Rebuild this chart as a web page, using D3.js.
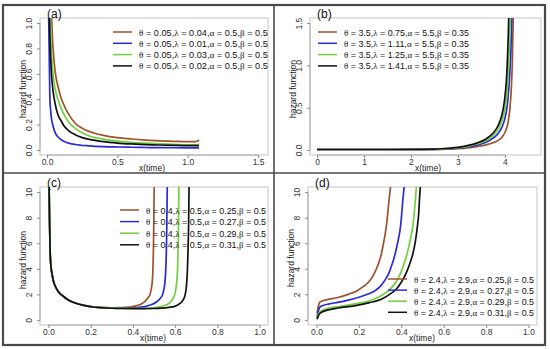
<!DOCTYPE html>
<html>
<head>
<meta charset="utf-8">
<script src="https://cdn.jsdelivr.net/npm/d3@7"></script>
<style>
  html, body { margin: 0; padding: 0; background: #fff; }
  svg { display: block; }
</style>
</head>
<body>
<script>
// series colours, same order in every panel
const colors = ['#a0522d', '#2a2ad8', '#72d03c', '#111111'];

// panel (a)
const aBrown = [[0.03,1.1],[0.04,0.85],[0.05,0.7],[0.06,0.6],[0.08,0.49],[0.1,0.41],[0.13,0.33],[0.16,0.27],[0.2,0.21],[0.25,0.17],[0.3,0.145],[0.4,0.115],[0.5,0.097],[0.6,0.086],[0.7,0.078],[0.8,0.072],[0.9,0.068],[1.0,0.065],[1.05,0.065],[1.07,0.07],[1.08,0.08]];
const aBlue = [[0.011,1.1],[0.015,0.8],[0.02,0.42],[0.025,0.32],[0.03,0.26],[0.04,0.2],[0.05,0.16],[0.06,0.13],[0.08,0.1],[0.1,0.08],[0.13,0.063],[0.16,0.052],[0.2,0.043],[0.3,0.032],[0.4,0.026],[0.5,0.023],[0.6,0.021],[0.7,0.019],[0.8,0.018],[0.9,0.017],[1.0,0.016],[1.08,0.016]];
const aGreen = [[0.022,1.1],[0.03,0.8],[0.04,0.63],[0.05,0.53],[0.06,0.47],[0.08,0.39],[0.1,0.33],[0.13,0.26],[0.16,0.21],[0.2,0.17],[0.25,0.135],[0.3,0.11],[0.4,0.085],[0.5,0.07],[0.6,0.06],[0.7,0.053],[0.8,0.048],[0.9,0.044],[1.0,0.041],[1.08,0.042]];
const aBlack = [[0.016,1.1],[0.02,0.9],[0.03,0.62],[0.04,0.49],[0.05,0.41],[0.06,0.35],[0.08,0.27],[0.1,0.23],[0.12,0.19],[0.15,0.155],[0.2,0.12],[0.25,0.097],[0.3,0.083],[0.4,0.065],[0.5,0.054],[0.6,0.047],[0.7,0.042],[0.8,0.039],[0.9,0.036],[1.0,0.034],[1.08,0.034]];
const aLegend = [['0.05','0.04','0.5','0.5'],['0.05','0.01','0.5','0.5'],['0.05','0.03','0.5','0.5'],['0.05','0.02','0.5','0.5']];
const aXTicks = [0, 0.5, 1, 1.5];
const aYTicks = [0, 0.2, 0.4, 0.6, 0.8, 1.0];

// panel (b)
const bBrown = [[0,0.005],[1,0.005],[2,0.005],[2.5,0.005],[2.8,0.01],[3.0,0.015],[3.2,0.024],[3.4,0.04],[3.6,0.06],[3.75,0.085],[3.85,0.11],[3.95,0.16],[4.02,0.23],[4.07,0.33],[4.11,0.5],[4.14,0.75],[4.16,1.05],[4.18,1.6]];
const bBlue = [[0,0.005],[1,0.005],[2,0.005],[2.5,0.007],[2.8,0.014],[3.0,0.02],[3.2,0.033],[3.4,0.055],[3.6,0.09],[3.75,0.14],[3.85,0.19],[3.93,0.26],[4.0,0.37],[4.05,0.52],[4.08,0.7],[4.11,0.95],[4.13,1.2],[4.15,1.6]];
const bGreen = [[0,0.005],[1,0.005],[2,0.006],[2.5,0.008],[2.8,0.017],[3.0,0.025],[3.2,0.04],[3.4,0.07],[3.6,0.11],[3.75,0.17],[3.85,0.24],[3.93,0.33],[3.99,0.45],[4.03,0.6],[4.06,0.8],[4.08,1.0],[4.1,1.3],[4.12,1.6]];
const bBlack = [[0,0.005],[1,0.005],[2,0.006],[2.5,0.01],[2.8,0.02],[3.0,0.03],[3.2,0.05],[3.4,0.08],[3.6,0.13],[3.75,0.2],[3.85,0.28],[3.92,0.38],[3.97,0.5],[4.0,0.62],[4.03,0.8],[4.05,1.0],[4.07,1.3],[4.085,1.6]];
const bLegend = [['3.5','0.75','5.5','0.35'],['3.5','1.11','5.5','0.35'],['3.5','1.25','5.5','0.35'],['3.5','1.41','5.5','0.35']];
const bXTicks = [0, 1, 2, 3, 4];
const bYTicks = [0, 0.5, 1.0, 1.5];

// panel (c)
const cBrown = [[0.003,10.5],[0.005,8],[0.008,5.3],[0.012,4.2],[0.018,3.5],[0.024,3.0],[0.035,2.55],[0.047,2.2],[0.07,1.85],[0.094,1.56],[0.13,1.3],[0.173,1.12],[0.21,1.03],[0.25,0.98],[0.3,0.95],[0.35,0.96],[0.38,1.0],[0.41,1.08],[0.44,1.25],[0.456,1.43],[0.47,1.7],[0.48,1.95],[0.49,2.7],[0.494,3.6],[0.497,5.3],[0.499,7.5],[0.501,10.5]];
const cBlue = [[0.003,10.5],[0.005,8],[0.008,5.3],[0.012,4.2],[0.018,3.5],[0.024,3.0],[0.035,2.55],[0.047,2.2],[0.07,1.85],[0.094,1.56],[0.13,1.3],[0.173,1.12],[0.21,1.02],[0.25,0.96],[0.3,0.93],[0.36,0.92],[0.4,0.95],[0.43,0.99],[0.456,1.04],[0.485,1.18],[0.51,1.38],[0.53,1.7],[0.54,1.95],[0.548,2.5],[0.552,3.0],[0.557,4.5],[0.56,6.6],[0.563,10.5]];
const cGreen = [[0.003,10.5],[0.005,8],[0.008,5.3],[0.012,4.2],[0.018,3.5],[0.024,3.0],[0.035,2.55],[0.047,2.2],[0.07,1.85],[0.094,1.56],[0.13,1.3],[0.173,1.12],[0.21,1.02],[0.25,0.96],[0.3,0.92],[0.35,0.9],[0.4,0.9],[0.45,0.9],[0.488,0.93],[0.52,1.0],[0.55,1.12],[0.575,1.35],[0.59,1.69],[0.6,2.1],[0.606,2.7],[0.611,3.8],[0.614,5.3],[0.616,7.5],[0.618,10.5]];
const cBlack = [[0.003,10.5],[0.005,8],[0.008,5.3],[0.012,4.2],[0.018,3.5],[0.024,3.0],[0.035,2.55],[0.047,2.2],[0.07,1.85],[0.094,1.56],[0.13,1.3],[0.173,1.12],[0.21,1.01],[0.25,0.95],[0.3,0.91],[0.35,0.89],[0.4,0.88],[0.45,0.88],[0.5,0.89],[0.535,0.92],[0.57,0.98],[0.598,1.06],[0.62,1.25],[0.638,1.56],[0.648,2.0],[0.654,2.7],[0.658,3.8],[0.661,5.3],[0.664,7.5],[0.666,10.5]];
const cLegend = [['0.4','0.5','0.25','0.5'],['0.4','0.5','0.27','0.5'],['0.4','0.5','0.29','0.5'],['0.4','0.5','0.31','0.5']];
const cXTicks = [0, 0.2, 0.4, 0.6, 0.8, 1.0];
const cYTicks = [0, 2, 4, 6, 8, 10];

// panel (d)
const dBrown = [[0.003,0.5],[0.005,0.75],[0.01,1.15],[0.015,1.37],[0.03,1.5],[0.06,1.62],[0.1,1.75],[0.15,2.0],[0.19,2.27],[0.22,2.6],[0.25,3.04],[0.27,3.55],[0.29,4.3],[0.305,5.1],[0.315,5.9],[0.33,7.4],[0.343,9.5],[0.35,10.5]];
const dBlue = [[0.003,0.2],[0.005,0.4],[0.01,0.75],[0.015,0.98],[0.03,1.12],[0.06,1.25],[0.1,1.37],[0.15,1.55],[0.196,1.75],[0.24,2.0],[0.275,2.27],[0.3,2.6],[0.32,3.04],[0.34,3.6],[0.356,4.33],[0.37,5.1],[0.381,5.9],[0.397,7.4],[0.408,9.5],[0.414,10.5]];
const dGreen = [[0.003,0.1],[0.008,0.4],[0.015,0.6],[0.024,0.72],[0.05,0.88],[0.1,1.03],[0.15,1.16],[0.196,1.29],[0.25,1.5],[0.29,1.75],[0.325,2.1],[0.353,2.5],[0.38,3.1],[0.4,3.8],[0.415,4.5],[0.43,5.36],[0.445,6.5],[0.455,7.4],[0.467,9.5],[0.472,10.5]];
const dBlack = [[0.003,0.05],[0.008,0.3],[0.015,0.48],[0.024,0.6],[0.05,0.76],[0.1,0.93],[0.15,1.04],[0.196,1.16],[0.25,1.35],[0.306,1.62],[0.345,2.0],[0.376,2.4],[0.4,2.95],[0.424,3.7],[0.44,4.4],[0.455,5.2],[0.467,6.2],[0.475,7.2],[0.482,8.3],[0.486,9.5],[0.49,10.5]];
const dLegend = [['2.4','2.9','0.25','0.5'],['2.4','2.9','0.27','0.5'],['2.4','2.9','0.29','0.5'],['2.4','2.9','0.31','0.5']];
const dXTicks = [0, 0.2, 0.4, 0.6, 0.8, 1.0];
const dYTicks = [0, 2, 4, 6, 8, 10];

const greek = ['\u03b8', '\u03bb', '\u03b1', '\u03b2'];
const sans = '"Liberation Sans", Arial, sans-serif';
const serif = '"Liberation Serif", "DejaVu Serif", serif';

const svg = d3.select(document.body).append('svg')
  .attr('width', 550)
  .attr('height', 349);

// tx / ty: where the axis titles sit
const panels = [
  {tag: '(a)', series: [aBrown, aBlue, aGreen, aBlack], legend: aLegend,
   box: [40, 268, 18, 155], xd: [-0.05, 1.57], yd: [-0.04, 1.04],
   xt: aXTicks, yt: aYTicks, xf: d3.format('.1f'), yf: d3.format('.1f'),
   tx: 152, ty: 89, leg: {x: 113, y: 32, dy: 11.3, w: 129}, clip: 'ca'},
  {tag: '(b)', series: [bBrown, bBlue, bGreen, bBlack], legend: bLegend,
   box: [310, 541, 18, 155], xd: [-0.15, 4.77], yd: [-0.06, 1.56],
   xt: bXTicks, yt: bYTicks, xf: d3.format('d'), yf: d3.format('.1f'),
   tx: 428, ty: 89, leg: {x: 318, y: 32, dy: 11.3, w: 125}, clip: 'cb'},
  {tag: '(c)', series: [cBrown, cBlue, cGreen, cBlack], legend: cLegend,
   box: [40, 268, 187, 325], xd: [-0.04, 1.04], yd: [-0.4, 10.4],
   xt: cXTicks, yt: cYTicks, xf: d3.format('.1f'), yf: d3.format('d'),
   tx: 153, ty: 260, leg: {x: 120, y: 210, dy: 11.6, w: 120}, clip: 'cc'},
  {tag: '(d)', series: [dBrown, dBlue, dGreen, dBlack], legend: dLegend,
   box: [308, 537, 187, 325], xd: [-0.04, 1.04], yd: [-0.4, 10.4],
   xt: dXTicks, yt: dYTicks, xf: d3.format('.1f'), yf: d3.format('d'),
   tx: 422, ty: 258, leg: {x: 388, y: 279, dy: 11.1, w: 120}, clip: 'cd'},
];

const defs = svg.append('defs');

panels.forEach(p => {
  const [x0, x1, y0, y1] = p.box;
  const x = d3.scaleLinear().domain(p.xd).range([x0, x1]);
  const y = d3.scaleLinear().domain(p.yd).range([y1, y0]);
  const g = svg.append('g');

  defs.append('clipPath').attr('id', p.clip)
    .append('rect')
    .attr('x', x0).attr('y', y0)
    .attr('width', x1 - x0).attr('height', y1 - y0);

  // plot box
  g.append('rect')
    .attr('x', x0).attr('y', y0)
    .attr('width', x1 - x0).attr('height', y1 - y0)
    .attr('fill', 'none')
    .attr('stroke', '#c4c4c4')
    .attr('stroke-width', 1);

  // axes, R style: line only spans the ticks
  const xa = g.append('g').attr('transform', `translate(0,${y1})`)
    .call(d3.axisBottom(x).tickValues(p.xt).tickFormat(p.xf).tickSize(3).tickPadding(1));
  const ya = g.append('g').attr('transform', `translate(${x0},0)`)
    .call(d3.axisLeft(y).tickValues(p.yt).tickFormat(p.yf).tickSize(3).tickPadding(2));
  xa.select('.domain')
    .attr('d', `M${x(p.xt[0])},0H${x(p.xt[p.xt.length - 1])}`);
  ya.select('.domain')
    .attr('d', `M0,${y(p.yt[0])}V${y(p.yt[p.yt.length - 1])}`);
  [xa, ya].forEach(a => {
    a.select('.domain').attr('stroke', '#aaa');
    a.selectAll('.tick line').attr('stroke', '#888');
    a.selectAll('.tick text')
      .attr('fill', '#333')
      .style('font-family', sans)
      .style('font-size', '8.5px');
  });
  ya.selectAll('.tick text')
    .attr('x', null).attr('dy', null)
    .attr('text-anchor', 'middle')
    .attr('transform', 'translate(-8,0) rotate(-90)');

  // axis titles
  g.append('text')
    .attr('x', p.tx).attr('y', y1 + 15.5)
    .attr('text-anchor', 'middle')
    .attr('fill', '#222')
    .style('font-family', sans).style('font-size', '8.5px')
    .text('x(time)');
  g.append('text')
    .attr('transform', `translate(${x0 - 14},${p.ty}) rotate(-90)`)
    .attr('text-anchor', 'middle')
    .attr('fill', '#222')
    .style('font-family', sans).style('font-size', '8.5px')
    .text('hazard function');

  // panel tag
  g.append('text')
    .attr('x', x0 + 7).attr('y', y0 - 0.5)
    .attr('fill', '#111')
    .style('font-family', sans).style('font-size', '12px')
    .text(p.tag);

  // curves
  const line = d3.line()
    .x(d => x(d[0]))
    .y(d => y(d[1]))
    .curve(d3.curveMonotoneX);
  g.append('g').attr('clip-path', `url(#${p.clip})`)
    .selectAll('path')
    .data(p.series)
    .join('path')
    .attr('d', line)
    .attr('fill', 'none')
    .attr('stroke', (d, i) => colors[i])
    .attr('stroke-width', 1.7);

  // legend: plotmath-like pieces, font sized so the row matches the reference width
  const lg = g.append('g');
  p.legend.forEach((vals, i) => {
    const ly = p.leg.y + i * p.leg.dy;
    lg.append('line')
      .attr('x1', p.leg.x).attr('x2', p.leg.x + 19)
      .attr('y1', ly).attr('y2', ly)
      .attr('stroke', colors[i])
      .attr('stroke-width', 1.5);
    const t = lg.append('text')
      .attr('x', p.leg.x + 26).attr('y', ly + 3.5)
      .attr('fill', '#111')
      .style('font-family', sans).style('font-size', '10px');
    vals.forEach((v, k) => {
      t.append('tspan').style('font-family', serif).text(greek[k]);
      t.append('tspan').text(' = ');
      t.append('tspan').text(v + (k < 3 ? ',' : ''));
    });
    const len = t.node().getComputedTextLength();
    const fs = Math.min(10.5, 10 * p.leg.w / len);
    t.style('font-size', fs.toFixed(2) + 'px');
  });
});

// outer frame and dividers
svg.append('rect')
  .attr('x', 3).attr('y', 5)
  .attr('width', 542).attr('height', 340)
  .attr('fill', 'none')
  .attr('stroke', '#4a4a4a')
  .attr('stroke-width', 2.2);
svg.append('line')
  .attr('x1', 274).attr('x2', 274).attr('y1', 5).attr('y2', 345)
  .attr('stroke', '#4a4a4a').attr('stroke-width', 1.6);
svg.append('line')
  .attr('x1', 3).attr('x2', 545).attr('y1', 173).attr('y2', 173)
  .attr('stroke', '#4a4a4a').attr('stroke-width', 1.6);
</script>
</body>
</html>
